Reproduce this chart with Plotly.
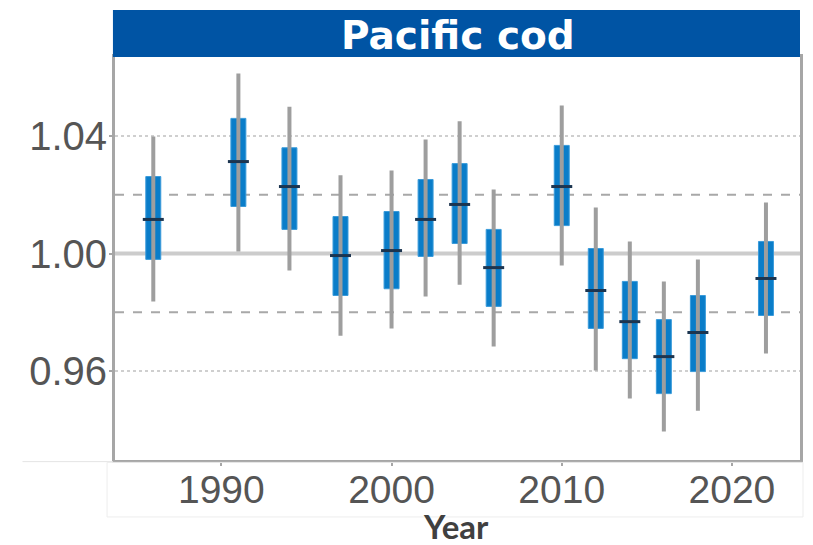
import plotly.graph_objects as go

# ---- data ----
years        = [1986, 1991, 1994, 1997, 2000, 2002, 2004, 2006, 2010, 2012, 2014, 2016, 2018, 2022]
whisker_low  = [0.9837, 1.0007, 0.9942, 0.9720, 0.9745, 0.9854, 0.9894, 0.9683, 0.9959, 0.9602, 0.9506, 0.9394, 0.9465, 0.9660]
box_low      = [0.9980, 1.0160, 1.0082, 0.9857, 0.9880, 0.9990, 1.0034, 0.9820, 1.0095, 0.9745, 0.9642, 0.9523, 0.9598, 0.9789]
median       = [1.0116, 1.0313, 1.0228, 0.9993, 1.0010, 1.0116, 1.0167, 0.9952, 1.0228, 0.9874, 0.9768, 0.9649, 0.9731, 0.9915]
box_high     = [1.0262, 1.0460, 1.0360, 1.0126, 1.0143, 1.0252, 1.0306, 1.0082, 1.0368, 1.0017, 0.9905, 0.9775, 0.9857, 1.0041]
whisker_high = [1.0398, 1.0613, 1.0500, 1.0266, 1.0283, 1.0388, 1.0450, 1.0218, 1.0504, 1.0157, 1.0041, 0.9905, 0.9980, 1.0174]

y_ticks = [0.96, 1.00, 1.04]
y_tick_labels = ["0.96", "1.00", "1.04"]
x_ticks = [1990, 2000, 2010, 2020]
x_tick_labels = ["1990", "2000", "2010", "2020"]
dotted_refs = [0.96, 1.04]
dashed_refs = [0.98, 1.02]
solid_refs = [1.00]

title_text = "Pacific cod"
x_title = "Year"

BLUE = "#0A7DC9"
BAR_BLUE = "#0054A4"
MED = "#1C3550"
WHISK = "#9E9E9E"

fig = go.Figure()

# whiskers
wx, wy = [], []
for x, lo, hi in zip(years, whisker_low, whisker_high):
    wx += [x, x, None]
    wy += [lo, hi, None]
fig.add_trace(go.Scatter(x=wx, y=wy, mode="lines",
                         line=dict(color=WHISK, width=4), hoverinfo="skip"))

# boxes
fig.add_trace(go.Bar(x=years, y=[h - l for h, l in zip(box_high, box_low)], base=box_low,
                     width=0.88, marker=dict(color=BLUE, line=dict(color="#3A9BDA", width=1))))

# medians
fig.add_trace(go.Scatter(x=years, y=median, mode="markers",
                         marker=dict(symbol="line-ew", size=15,
                                     line=dict(color=MED, width=3)),
                         hoverinfo="skip"))

shapes = []
for v in dotted_refs:
    shapes.append(dict(type="line", xref="paper", yref="y", x0=0, x1=1, y0=v, y1=v,
                       line=dict(color="#CFCFCF", width=2, dash="dot"), layer="below"))
for v in dashed_refs:
    shapes.append(dict(type="line", xref="paper", yref="y", x0=0, x1=1, y0=v, y1=v,
                       line=dict(color="#A8A8A8", width=2, dash="dash"), layer="below"))
for v in solid_refs:
    shapes.append(dict(type="line", xref="paper", yref="y", x0=0, x1=1, y0=v, y1=v,
                       line=dict(color="#CCCCCC", width=4), layer="below"))

# title strip
shapes.append(dict(type="rect", xref="paper", yref="paper", x0=-0.003, x1=1.0,
                   y0=1.0, y1=1.1166, fillcolor=BAR_BLUE, line=dict(width=0)))
# faint screenshot frame lines
shapes.append(dict(type="line", xref="paper", yref="paper", x0=-0.135, x1=-0.003,
                   y0=-0.004, y1=-0.004, line=dict(color="#E4E4E4", width=1)))
shapes.append(dict(type="rect", xref="paper", yref="paper", x0=-0.0116, x1=1.0044,
                   y0=-0.006, y1=-0.1414, line=dict(color="#EDEDED", width=1)))

fig.update_layout(
    width=805, height=537,
    margin=dict(l=107, r=10, t=49, b=85),
    paper_bgcolor="white", plot_bgcolor="white",
    showlegend=False,
    shapes=shapes,
    font=dict(family="Liberation Sans, Arial, sans-serif"),
    annotations=[
        dict(text=title_text, xref="paper", yref="paper", x=0.5, y=1.054,
             showarrow=False, xanchor="center", yanchor="middle",
             font=dict(size=39, color="white", family="DejaVu Sans, sans-serif", weight="bold")),
        dict(text=x_title, xref="paper", yref="paper", x=0.4985, y=-0.163,
             showarrow=False, xanchor="center", yanchor="middle",
             font=dict(size=33, color="#404040", family="Lato, Open Sans, sans-serif", weight="bold")),
    ],
)

fig.update_xaxes(range=[1983.75, 2024.0], tickvals=x_ticks, ticktext=x_tick_labels,
                 showgrid=False, zeroline=False,
                 showline=True, mirror=True, linecolor="#A6A6A6", linewidth=3,
                 ticks="outside", ticklen=3, tickcolor="#A6A6A6", tickwidth=2,
                 ticklabelstandoff=-10,
                 tickfont=dict(size=39, color="#555555"))
fig.update_yaxes(range=[0.9297, 1.0669], tickvals=y_ticks, ticktext=y_tick_labels,
                 showgrid=False, zeroline=False,
                 showline=True, mirror=True, linecolor="#A6A6A6", linewidth=3,
                 ticks="outside", ticklen=3, tickcolor="#A6A6A6", tickwidth=2,
                 ticklabelstandoff=-6,
                 tickfont=dict(size=40, color="#555555"))

fig.write_html("out.html")
